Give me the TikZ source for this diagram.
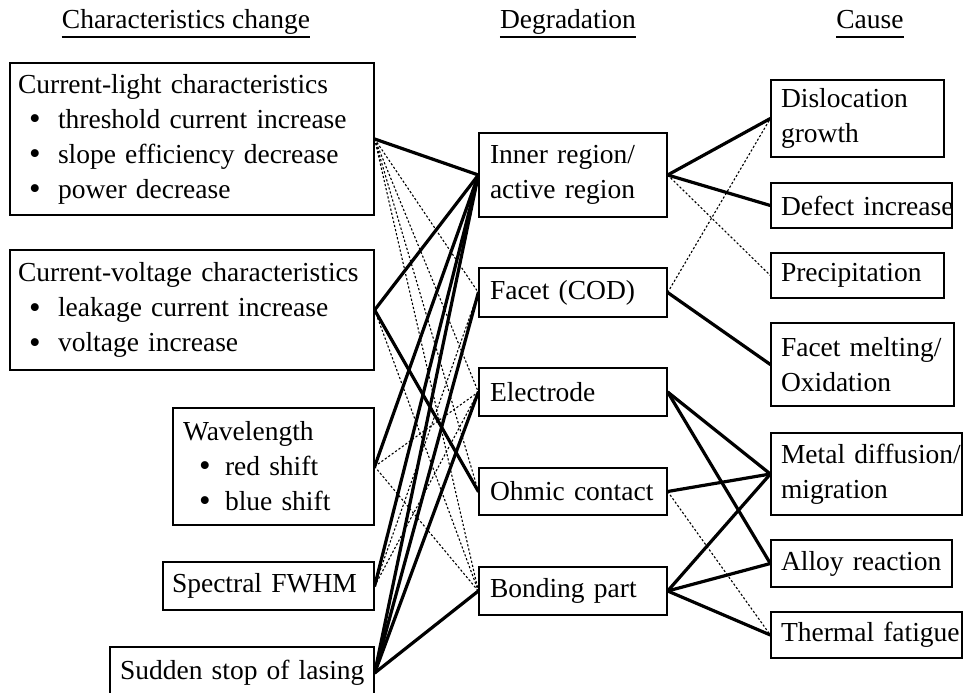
\documentclass[tikz,border=0pt]{standalone}
\usepackage{fontspec}
\setmainfont{Liberation Serif}
\usetikzlibrary{calc}
% a round bullet and the bullet lines of the left-hand boxes
\newcommand\bigbul{\raisebox{-1.5pt}{\fontsize{33}{35}\selectfont •}}
\newcommand\bul[1]{\mbox{\hspace*{11pt}\makebox[29pt][l]{\bigbul}#1}}
\newcommand\bulw[1]{\mbox{\hspace*{16pt}\makebox[26pt][l]{\bigbul}#1}}
\begin{document}
\begin{tikzpicture}[x=1pt,y=-1pt,
  box/.style={draw,line width=1.3pt,inner ysep=0pt,align=left,
    font=\fontsize{27.5}{35}\selectfont},
  lbox/.style={box,inner xsep=8pt},
  mbox/.style={box,inner xsep=11pt,text width=166pt},
  rbox/.style={box,inner xsep=10pt},
  head/.style={anchor=base,inner sep=0pt,font=\fontsize{27.5}{35}\selectfont},
  uline/.style={line width=1.3pt},
  strong/.style={line width=3.2pt},
  weak/.style={line width=1.1pt,dash pattern=on 2.2pt off 2pt},
]
\useasboundingbox (0,0) rectangle (967,693);

% column headings
\node[head] (h1) at (186,29) {Characteristics change};
\node[head] (h2) at (568,29) {Degradation};
\node[head] (h3) at (870,29) {Cause};
\foreach \h in {h1,h2,h3}
  \draw[uline] ([yshift=-8pt]\h.base west) -- ([yshift=-8pt]\h.base east);

% characteristics change
\node[lbox,text width=348pt,minimum height=152pt] (L1) at (192,139)
  {\mbox{Current-light characteristics}\\ \bul{threshold current increase}\\
   \bul{slope efficiency decrease}\\ \bul{power decrease}};
\node[lbox,text width=348pt,minimum height=120pt] (L2) at (192,310)
  {\mbox{Current-voltage characteristics}\\ \bul{leakage current increase}\\
   \bul{voltage increase}};
\node[lbox,inner xsep=10pt,text width=181pt,minimum height=117pt] (L3) at (273.5,466.5)
  {Wavelength\\ \bulw{red shift}\\ \bulw{blue shift}};
\node[lbox,inner xsep=9pt,text width=193pt,minimum height=48pt] (L4) at (268.5,586)
  {\mbox{Spectral FWHM}};
\node[lbox,inner xsep=10pt,text width=244pt,minimum height=52pt] (L5) at (242,673)
  {\mbox{Sudden stop of lasing}};

% degradation
\node[mbox,minimum height=84pt] (M1) at (573,175) {\mbox{Inner region/}\\\mbox{active region}};
\node[mbox,minimum height=49pt] (M2) at (573,292.5) {\mbox{Facet (COD)}};
\node[mbox,minimum height=48pt] (M3) at (573,392) {Electrode};
\node[mbox,minimum height=47pt] (M4) at (573,491.5) {\mbox{Ohmic contact}};
\node[mbox,minimum height=48pt] (M5) at (573,591) {\mbox{Bonding part}};

% cause
\node[rbox,text width=153pt,minimum height=77pt] (R1) at (857.5,118.5) {Dislocation\\growth};
\node[rbox,text width=161pt,minimum height=45pt] (R2) at (861.5,205.5) {\mbox{Defect increase}};
\node[rbox,text width=153pt,minimum height=45pt] (R3) at (857.5,275.5) {Precipitation};
\node[rbox,text width=163pt,minimum height=83pt] (R4) at (862.5,364.5) {\mbox{Facet melting/}\\Oxidation};
\node[rbox,text width=171pt,minimum height=82pt] (R5) at (866.5,474) {\mbox{Metal diffusion/}\\migration};
\node[rbox,text width=161pt,minimum height=47pt] (R6) at (861.5,563.5) {\mbox{Alloy reaction}};
\node[rbox,text width=171pt,minimum height=46pt] (R7) at (866.5,635) {\mbox{Thermal fatigue}};

% weak relations (dotted)
\foreach \a/\b in {L1/M2,L1/M3,L1/M4,L1/M5,L2/M5,L3/M3,L3/M5,L4/M2,L4/M3,
                   M1/R3,M2/R1,M4/R7}
  \draw[weak] (\a.east) -- (\b.west);

% strong relations (solid)
\foreach \a/\b in {L1/M1,L2/M1,L2/M4,L3/M1,L4/M1,L5/M1,L5/M2,L5/M3,L5/M5,
                   M1/R1,M1/R2,M2/R4,M3/R5,M3/R6,M4/R5,M5/R5,M5/R6,M5/R7}
  \draw[strong,line cap=round] (\a.east) -- (\b.west);
\end{tikzpicture}
\end{document}
